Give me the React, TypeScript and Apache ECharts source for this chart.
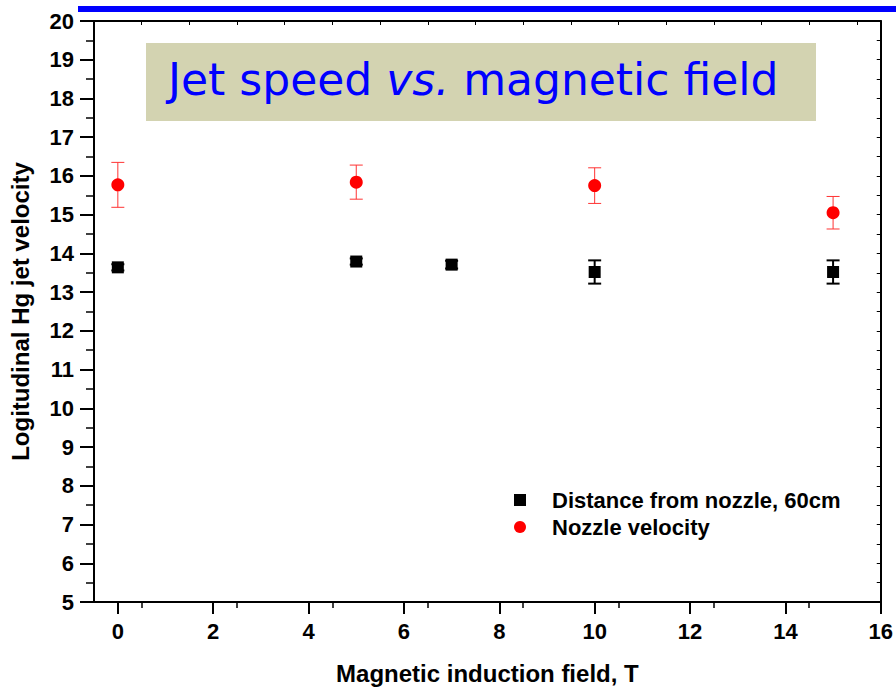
import React, { useEffect, useRef } from "react";
import * as echarts from "echarts";

const fieldBlack = [0, 5, 7, 10, 15];
const velBlack = [13.64, 13.79, 13.71, 13.52, 13.52];
const errBlack = [0.08, 0.08, 0.1, 0.3, 0.3];

const fieldRed = [0, 5, 10, 15];
const velRed = [15.77, 15.84, 15.75, 15.05];
const errRed = [0.58, 0.44, 0.46, 0.42];

const xTicks = [0, 2, 4, 6, 8, 10, 12, 14, 16];
const yTicks = [5, 6, 7, 8, 9, 10, 11, 12, 13, 14, 15, 16, 17, 18, 19, 20];

const nameBlack = "Distance from nozzle, 60cm";
const nameRed = "Nozzle velocity";
const titleText = ["Jet speed ", "vs.", " magnetic field"];

const FONT = "'Liberation Sans', Arial, sans-serif";

function errorBarSeries(xs: number[], ys: number[], es: number[], color: string, width: number, name: string) {
  const data = xs.map((x, i) => [x, ys[i] - es[i], ys[i] + es[i]]);
  return {
    type: "custom",
    name,
    z: 2,
    data,
    renderItem: (params: any, api: any) => {
      const x = api.value(0);
      const lo = api.coord([x, api.value(1)]);
      const hi = api.coord([x, api.value(2)]);
      const half = 6.5;
      const st = { stroke: color, lineWidth: width };
      return {
        type: "group",
        children: [
          { type: "line", shape: { x1: lo[0], y1: lo[1], x2: hi[0], y2: hi[1] }, style: st },
          { type: "line", shape: { x1: lo[0] - half, y1: lo[1], x2: lo[0] + half, y2: lo[1] }, style: st },
          { type: "line", shape: { x1: hi[0] - half, y1: hi[1], x2: hi[0] + half, y2: hi[1] }, style: st },
        ],
      };
    },
  };
}

export default function App() {
  const ref = useRef<HTMLDivElement>(null);
  useEffect(() => {
    if (!ref.current) return;
    const chart = echarts.init(ref.current, null, { renderer: "svg" });
    const axisLine = { show: true, lineStyle: { color: "#000", width: 2 } };
    chart.setOption({
      animation: false,
      backgroundColor: "#fff",
      grid: { left: 94, right: 15, top: 21, bottom: 86, containLabel: false },
      legend: {
        data: [
          { name: nameBlack, icon: "rect" },
          { name: nameRed, icon: "circle" },
        ],
        orient: "vertical",
        left: 509,
        top: 484,
        itemWidth: 12,
        itemHeight: 12,
        itemGap: 5,
        textStyle: {
          fontFamily: FONT,
          fontWeight: "bold",
          fontSize: 22,
          color: "#000",
          padding: [0, 0, 0, 21],
        },
      },
      xAxis: [
        {
          type: "value",
          min: -0.5,
          max: 16,
          interval: 2,
          position: "bottom",
          name: "Magnetic induction field, T",
          nameLocation: "middle",
          nameGap: 59,
          nameTextStyle: { fontFamily: FONT, fontWeight: "bold", fontSize: 24, color: "#000" },
          axisLine: { ...axisLine, onZero: false },
          axisTick: { show: true, length: 12, lineStyle: { color: "#000", width: 2 }, customValues: xTicks },
          minorTick: { show: true, splitNumber: 2, length: 6, lineStyle: { color: "#000", width: 1.5 } },
          axisLabel: {
            customValues: xTicks,
            margin: 18,
            fontFamily: FONT,
            fontWeight: "bold",
            fontSize: 22,
            color: "#000",
          },
          splitLine: { show: false },
        },
        {
          type: "value",
          min: -0.5,
          max: 16,
          interval: 1,
          position: "top",
          axisLine: { ...axisLine, onZero: false },
          axisTick: { show: true, inside: true, length: 4, lineStyle: { color: "#000", width: 1 } },
          axisLabel: { show: false },
          splitLine: { show: false },
        },
      ],
      yAxis: [
        {
          type: "value",
          min: 5,
          max: 20,
          interval: 1,
          position: "left",
          name: "Logitudinal Hg jet velocity",
          nameLocation: "middle",
          nameGap: 62,
          nameTextStyle: { fontFamily: FONT, fontWeight: "bold", fontSize: 24, color: "#000" },
          axisLine: { ...axisLine, onZero: false },
          axisTick: { show: true, length: 14, lineStyle: { color: "#000", width: 2 }, customValues: yTicks },
          minorTick: { show: true, splitNumber: 2, length: 8, lineStyle: { color: "#000", width: 1.5 } },
          axisLabel: {
            customValues: yTicks,
            margin: 20,
            fontFamily: FONT,
            fontWeight: "bold",
            fontSize: 22,
            color: "#000",
          },
          splitLine: { show: false },
        },
        {
          type: "value",
          min: 5,
          max: 20,
          interval: 0.5,
          position: "right",
          axisLine: { ...axisLine, onZero: false },
          axisTick: { show: true, inside: true, length: 4, lineStyle: { color: "#000", width: 1 } },
          axisLabel: { show: false },
          splitLine: { show: false },
        },
      ],
      graphic: [
        { type: "rect", left: 78, top: 6, shape: { width: 818, height: 6 }, style: { fill: "#0000ff" } },
        {
          type: "rect",
          left: 146,
          top: 43,
          shape: { width: 670, height: 78 },
          style: { fill: "#d3d3b1" },
          z: 0,
        },
        {
          type: "text",
          left: 168,
          top: 57,
          z: 1,
          style: {
            text: `{a|${titleText[0]}}{b|${titleText[1]}}{a|${titleText[2]}}`,
            rich: {
              a: { fontFamily: "'DejaVu Sans', sans-serif", fontSize: 44, fill: "#0000ff", fontWeight: "normal" },
              b: { fontFamily: "'DejaVu Sans', sans-serif", fontSize: 44, fill: "#0000ff", fontStyle: "italic" },
            },
          },
        },
      ],
      series: [
        errorBarSeries(fieldBlack, velBlack, errBlack, "#000", 2, "errBlack"),
        errorBarSeries(fieldRed, velRed, errRed, "#ff3333", 1, "errRed"),
        {
          type: "scatter",
          name: nameBlack,
          symbol: "rect",
          symbolSize: 12,
          z: 3,
          itemStyle: { color: "#000", opacity: 1 },
          data: fieldBlack.map((x, i) => [x, velBlack[i]]),
        },
        {
          type: "scatter",
          name: nameRed,
          symbol: "circle",
          symbolSize: 13,
          z: 3,
          itemStyle: { color: "#ff0000", opacity: 1 },
          data: fieldRed.map((x, i) => [x, velRed[i]]),
        },
      ],
    });
    return () => chart.dispose();
  }, []);
  return <div ref={ref} style={{ width: 896, height: 690, position: "absolute", left: 0, top: 0 }} />;
}
